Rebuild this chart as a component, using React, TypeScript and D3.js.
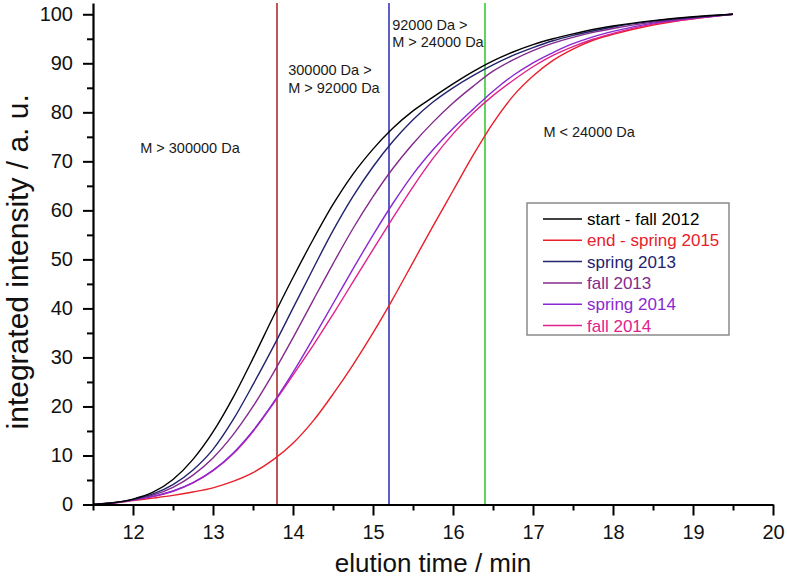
import React, { useEffect, useRef } from "react";
import * as d3 from "d3";

const times = [11.5, 11.75, 12, 12.25, 12.5, 12.75, 13, 13.25, 13.5, 13.75, 14, 14.25, 14.5, 14.75, 15, 15.25, 15.5, 15.75, 16, 16.25, 16.5, 16.75, 17, 17.25, 17.5, 17.75, 18, 18.5, 19, 19.5];

const startFall2012 = [0, 0.35, 1.1, 2.5, 5.1, 9.2, 14.8, 21.8, 29.8, 38.2, 46.3, 54.0, 61.2, 67.4, 72.5, 76.8, 80.3, 83.1, 85.8, 88.3, 90.5, 92.3, 93.8, 95.0, 96.0, 96.9, 97.6, 98.7, 99.5, 100];
const endSpring2015 = [0, 0.3, 0.8, 1.3, 1.85, 2.55, 3.4, 4.7, 6.5, 9.1, 12.5, 17.0, 22.5, 28.5, 35.0, 42.0, 49.4, 56.8, 64.0, 71.2, 77.8, 83.3, 87.4, 90.6, 92.9, 94.7, 95.9, 97.8, 99.1, 100];
const spring2013 = [0, 0.35, 1.05, 2.15, 4.05, 7.05, 11.25, 17.25, 24.45, 32.05, 40.05, 48.05, 55.85, 62.85, 68.9, 74.1, 78.5, 82.1, 85.0, 87.5, 89.7, 91.6, 93.2, 94.6, 95.7, 96.6, 97.4, 98.6, 99.4, 100];
const fall2013 = [0, 0.3, 0.95, 1.9, 3.5, 6.0, 9.5, 14.2, 20.0, 26.7, 34.0, 41.6, 49.1, 56.3, 62.8, 68.6, 73.6, 78.0, 81.9, 85.3, 88.4, 90.7, 92.6, 94.1, 95.3, 96.3, 97.1, 98.4, 99.3, 100];
const spring2014 = [0, 0.3, 0.9, 1.65, 2.75, 4.45, 6.95, 10.45, 15.05, 20.65, 26.95, 33.85, 40.95, 48.05, 54.95, 61.45, 67.35, 72.35, 76.7, 80.6, 84.3, 87.5, 90.1, 92.2, 94.0, 95.4, 96.5, 98.2, 99.2, 100];
const fall2014 = [0, 0.3, 0.9, 1.6, 2.7, 4.4, 6.9, 10.3, 14.9, 20.5, 26.4, 32.4, 38.8, 45.4, 52.0, 58.5, 64.8, 70.6, 75.6, 79.8, 83.4, 86.5, 89.3, 91.6, 93.4, 94.9, 96.1, 98.0, 99.1, 100];

const seriesNames = ["start - fall 2012", "end - spring 2015", "spring 2013", "fall 2013", "spring 2014", "fall 2014"];
const seriesValues = [startFall2012, endSpring2015, spring2013, fall2013, spring2014, fall2014];
const seriesColors = ["#000000", "#e8202a", "#23236e", "#842a8c", "#8a28d2", "#e0228c"];
const drawOrder = [1, 5, 4, 3, 2, 0];

const xMajorTicks = [12, 13, 14, 15, 16, 17, 18, 19, 20];
const xMinorTicks = [11.5, 12.5, 13.5, 14.5, 15.5, 16.5, 17.5, 18.5, 19.5];
const yMajorTicks = [0, 10, 20, 30, 40, 50, 60, 70, 80, 90, 100];
const yMinorTicks = [5, 15, 25, 35, 45, 55, 65, 75, 85, 95];

const boundaryTimes = [13.8, 15.2, 16.4];
const boundaryColors = ["#a82020", "#2828b0", "#28c828"];

const regionLabels = [
  { lines: ["M > 300000 Da"], t: 12.09, v: 71.7 },
  { lines: ["300000 Da >", "M > 92000 Da"], t: 13.94, v: 87.6 },
  { lines: ["92000 Da >", "M > 24000 Da"], t: 15.24, v: 96.8 },
  { lines: ["M < 24000 Da"], t: 17.13, v: 75.0 },
];

const W = 787;
const H = 580;
const FONT = "'Liberation Sans', Arial, Helvetica, sans-serif";

export default function App() {
  const xAxisRef = useRef<SVGGElement>(null);
  const yAxisRef = useRef<SVGGElement>(null);

  const x = d3.scaleLinear().domain([11.5, 20]).range([93, 773]);
  const y = d3.scaleLinear().domain([0, 102.3]).range([504.5, 3]);

  useEffect(() => {
    document.body.style.margin = "0";
    const gx = d3.select(xAxisRef.current);
    gx.selectAll("*").remove();
    gx.append("g")
      .call(d3.axisBottom(x).tickValues(xMinorTicks).tickSize(6).tickFormat(() => ""))
      .call((g) => g.select(".domain").remove());
    gx.append("g")
      .call(d3.axisBottom(x).tickValues(xMajorTicks).tickSize(11).tickSizeOuter(0).tickPadding(9).tickFormat(d3.format("d")));
    gx.selectAll("line").attr("stroke", "#000").attr("stroke-width", 2);
    gx.selectAll(".domain").attr("stroke", "#000").attr("stroke-width", 2.2);
    gx.selectAll("text").attr("font-size", 20).attr("font-family", FONT).attr("fill", "#111");

    const gy = d3.select(yAxisRef.current);
    gy.selectAll("*").remove();
    gy.append("g")
      .call(d3.axisLeft(y).tickValues(yMinorTicks).tickSize(6).tickFormat(() => ""))
      .call((g) => g.select(".domain").remove());
    gy.append("g")
      .call(d3.axisLeft(y).tickValues(yMajorTicks).tickSize(10).tickSizeOuter(0).tickPadding(10).tickFormat(d3.format("d")));
    gy.selectAll("line").attr("stroke", "#000").attr("stroke-width", 2);
    gy.selectAll(".domain").attr("stroke", "#000").attr("stroke-width", 2.2);
    gy.selectAll("text").attr("font-size", 20).attr("font-family", FONT).attr("fill", "#111");
  }, []);

  const line = d3
    .line<number>()
    .x((_, i) => x(times[i]))
    .y((d) => y(d))
    .curve(d3.curveMonotoneX);

  const legendX = 527;
  const legendY = 203;
  const rowH = 21.3;

  return (
    <svg width={W} height={H} style={{ display: "block", background: "#fff" }} fontFamily={FONT}>
      {boundaryTimes.map((t, i) => (
        <line key={"b" + i} x1={x(t)} x2={x(t)} y1={y(0)} y2={y(102.3)} stroke={boundaryColors[i]} strokeWidth={1.5} />
      ))}
      {drawOrder.map((k) => (
        <path key={"s" + k} d={line(seriesValues[k]) || ""} fill="none" stroke={seriesColors[k]} strokeWidth={1.4} />
      ))}
      <g ref={xAxisRef} transform={`translate(0,${y(0)})`} />
      <g ref={yAxisRef} transform={`translate(${x(11.5)},0)`} />
      {regionLabels.map((r, i) => (
        <text key={"r" + i} x={x(r.t)} y={y(r.v)} fontSize={14.5} fill="#1a1a1a">
          {r.lines.map((l, j) => (
            <tspan key={j} x={x(r.t)} dy={j === 0 ? 0 : 17.5}>
              {l}
            </tspan>
          ))}
        </text>
      ))}
      <text x={(x(11.5) + x(20)) / 2} y={572} textAnchor="middle" fontSize={26} fill="#111">
        elution time / min
      </text>
      <text transform={`translate(28,${y(49.5)}) rotate(-90)`} textAnchor="middle" fontSize={30} fill="#111">
        integrated intensity / a. u.
      </text>
      <rect x={legendX} y={legendY} width={202} height={132} fill="#fff" stroke="#8a8a8a" strokeWidth={1.5} />
      {seriesNames.map((name, i) => (
        <g key={"l" + i} transform={`translate(${legendX},${legendY + 16 + i * rowH})`}>
          <line x1={16} x2={55} y1={0} y2={0} stroke={seriesColors[i]} strokeWidth={1.5} />
          <text x={60} y={6} fontSize={17} fill={seriesColors[i]}>
            {name}
          </text>
        </g>
      ))}
    </svg>
  );
}
